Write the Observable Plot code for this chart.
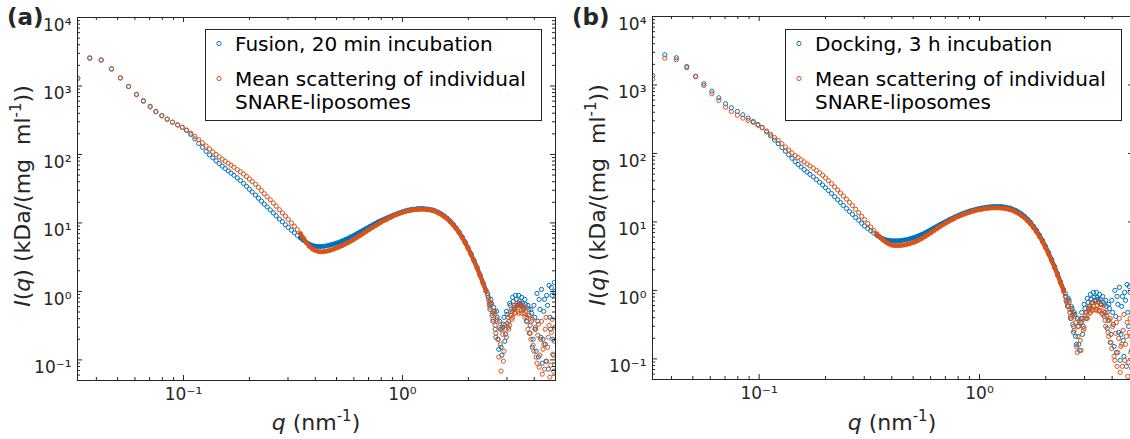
<!DOCTYPE html>
<html><head><meta charset="utf-8">
<script src="https://cdn.jsdelivr.net/npm/d3@7"></script>
<script src="https://cdn.jsdelivr.net/npm/@observablehq/plot@0.6"></script>
<style>
html,body{margin:0;padding:0;background:#fff;overflow:hidden;}
#wrap{position:relative;width:1130px;height:439px;overflow:hidden;font-family:"DejaVu Sans",sans-serif;}
#wrap svg{position:absolute;top:0;}
</style></head><body><div id="wrap"></div>
<script>
// scattering vector q (nm^-1), shared by all curves (last block: extra points in the noisy high-q tail)
const q = [0.0329,0.0373,0.0421,0.0469,0.0515,0.0561,0.0610,0.0656,0.0704,0.0748,0.0796,0.0843,0.0891,0.0940,0.0987,0.1032,0.1080,0.1127,0.1174,0.1220,0.1268,0.1315,0.1362,0.1409,0.1456,0.1503,
0.155,0.160,0.165,0.170,0.176,0.182,0.188,0.194,0.200,0.206,0.213,0.220,0.227,0.234,0.241,0.249,0.257,0.265,0.274,0.283,0.292,0.301,0.311,0.321,0.331,0.342,0.353,0.364,0.376,0.388,0.400,0.413,0.426,0.440,0.454,0.468,0.483,0.499,0.515,0.531,0.548,0.566,0.584,0.603,0.622,0.642,0.663,0.684,0.706,0.729,0.752,0.776,0.801,0.827,0.853,0.880,0.908,0.937,0.967,0.998,1.030,1.063,1.097,1.132,1.168,1.205,1.244,1.284,1.325,1.367,1.411,1.456,1.502,1.550,1.600,1.651,1.704,1.758,1.814,1.872,1.932,1.994,2.058,2.124,2.192,2.262,2.334,2.409,
2.45,2.49,2.53,2.57,2.61,2.65,2.69,2.73,2.78,2.82,2.87,2.91,2.96,3.01,3.06,3.11,3.16,3.21,3.26,3.31,3.37,3.42,3.48,3.53,3.59,3.65,3.71,3.77,3.83,3.89,3.95,4.02,4.08,4.15,4.21,4.28,4.35,4.42,4.49,4.56,4.64,4.71,4.79,4.86,4.94,
2.47,2.51,2.55,2.59,2.63,2.67,2.71,2.755,2.80,2.845,2.89,2.935,2.985,3.035,3.085,3.135,3.185,3.235,3.285,3.34,3.395,3.45,3.505,3.56,3.62,3.68,3.74,3.80,3.86,3.92,3.985,4.05,4.115,4.18,4.245,4.315,4.385,4.455,4.525,4.60,4.675,4.75,4.825,4.90,4.97];

// (a) Fusion, 20 min incubation
const fusion20 = [1300,2580,2400,1780,1310,985,755,610,505,425,370,328,296,270,250,224,196,169,145,127,111,98.7,89.2,80.7,73.5,67.6,
62.3,57.7,53.4,49.6,45.6,41.6,37.7,34.2,31.0,28.3,25.5,23.0,20.8,18.8,17.1,15.5,14.0,12.7,11.4,10.4,9.41,8.60,7.83,7.15,6.58,6.05,5.58,5.20,4.90,4.69,4.58,4.53,4.53,4.58,4.66,4.77,4.90,5.07,5.25,5.47,5.71,5.99,6.30,6.64,7.01,7.42,7.86,8.32,8.81,9.32,9.83,10.4,10.9,11.4,11.9,12.4,13.0,13.5,14.0,14.5,15.0,15.4,15.7,15.9,16.1,16.2,16.2,16.0,15.8,15.5,15.0,14.3,13.6,12.7,11.7,10.7,9.57,8.46,7.37,6.28,5.27,4.34,3.53,2.83,2.24,1.74,1.34,1.03,
0.935,0.647,0.765,0.447,0.585,0.280,0.512,0.200,0.366,0.153,0.299,0.418,0.237,0.463,0.366,0.626,0.512,0.715,0.585,0.765,0.626,0.715,0.626,0.669,0.566,0.647,0.418,0.547,0.320,0.478,0.200,0.418,0.134,0.366,0.765,0.214,0.0895,0.512,0.169,0.875,0.0732,0.418,1.14,0.200,1.35,
0.818,0.547,0.669,0.366,0.512,0.214,0.418,0.143,0.280,0.117,0.331,0.187,0.512,0.299,0.669,0.447,0.818,0.547,0.875,0.626,0.875,0.669,0.818,0.547,0.765,0.366,0.626,0.245,0.547,0.153,0.626,0.280,0.935,0.110,0.547,1.07,0.200,0.765,0.0957,0.626,1.22,0.280,0.875,0.117,1.00];

// (a) Mean scattering of individual SNARE-liposomes
const meanA = [1280,2530,2390,1770,1310,977,747,598,494,419,366,327,296,270,248,228,205,183,164,148,133,120,109,100,92.3,85.4,
79.6,74.4,69.6,65.1,60.1,55.8,51.7,47.7,43.8,40.3,36.7,33.2,29.7,26.7,24.1,21.8,19.6,17.6,15.6,14.0,12.6,11.3,10.0,8.92,7.99,6.99,6.01,5.17,4.52,4.16,3.95,3.82,3.78,3.82,3.89,3.99,4.13,4.30,4.47,4.67,4.91,5.17,5.47,5.81,6.17,6.58,7.03,7.52,8.04,8.60,9.13,9.67,10.3,10.9,11.4,12.0,12.6,13.2,13.7,14.2,14.6,15.0,15.3,15.6,15.7,15.8,15.8,15.7,15.5,15.2,14.7,14.0,13.3,12.4,11.5,10.4,9.35,8.26,7.18,6.11,5.13,4.23,3.43,2.75,2.18,1.70,1.31,1.00,
0.875,0.692,0.669,0.478,0.512,0.320,0.391,0.200,0.299,0.0685,0.237,0.134,0.280,0.342,0.280,0.447,0.391,0.529,0.478,0.605,0.512,0.626,0.529,0.605,0.478,0.512,0.366,0.447,0.245,0.366,0.164,0.280,0.110,0.229,0.0783,0.200,0.0619,0.169,0.280,0.0957,0.214,0.0560,0.253,0.121,0.187,
0.765,0.585,0.647,0.391,0.478,0.245,0.366,0.110,0.169,0.280,0.0957,0.320,0.214,0.418,0.320,0.547,0.418,0.626,0.495,0.669,0.478,0.647,0.478,0.585,0.418,0.585,0.280,0.447,0.200,0.391,0.134,0.299,0.0895,0.331,0.117,0.366,0.143,0.0732,0.418,0.153,0.320,0.0837,0.391,0.0685,0.299];

// (b) Docking, 3 h incubation
const docking3h = [1376,2760,2495,1863,1344,1041,812,650,532,465,410,367,328,293,265,240,206,180,157,139,122,108,95.7,85.1,75.9,69.1,
63.3,58.2,53.5,49.6,45.5,41.6,38.0,34.7,31.6,28.8,26.0,23.4,21.2,19.2,17.4,15.7,14.2,12.9,11.6,10.6,9.57,8.74,8.04,7.44,6.89,6.39,6.00,5.70,5.50,5.37,5.32,5.30,5.32,5.37,5.44,5.55,5.68,5.86,6.06,6.31,6.59,6.93,7.31,7.74,8.20,8.68,9.19,9.70,10.2,10.8,11.3,11.9,12.4,13.0,13.5,14.0,14.5,14.9,15.3,15.7,16.0,16.3,16.5,16.7,16.8,16.8,16.8,16.6,16.3,16.0,15.4,14.8,14.0,13.1,12.1,11.0,9.83,8.65,7.52,6.39,5.35,4.40,3.56,2.84,2.24,1.74,1.33,1.02,
0.904,0.668,0.764,0.477,0.584,0.319,0.477,0.213,0.390,0.163,0.341,0.477,0.298,0.546,0.477,0.668,0.584,0.739,0.668,0.790,0.715,0.790,0.691,0.739,0.625,0.668,0.477,0.584,0.365,0.546,0.228,0.477,0.152,0.417,0.817,0.244,0.0951,0.584,0.186,0.935,0.0777,0.477,1.14,0.213,1.22,
0.817,0.584,0.715,0.390,0.546,0.244,0.446,0.163,0.298,0.133,0.390,0.228,0.625,0.390,0.764,0.546,0.874,0.646,0.935,0.715,0.935,0.739,0.874,0.625,0.817,0.417,0.715,0.279,0.625,0.174,0.715,0.319,1.00,0.124,0.625,1.11,0.228,0.817,0.109,0.715,1.22,0.298,0.935,0.133,1.07];

// (b) Mean scattering of individual SNARE-liposomes
const meanB = [1215,2462,2333,1783,1317,983,744,594,474,410,362,328,303,284,258,237,213,191,171,155,139,124,112,102,92.9,87.4,
80.9,75.4,70.3,65.9,61.0,56.5,52.1,48.1,44.0,40.1,36.1,32.5,29.3,26.4,23.9,21.5,19.3,17.3,15.3,13.6,12.1,10.8,9.51,8.42,7.52,6.70,6.02,5.48,5.05,4.76,4.58,4.51,4.51,4.54,4.60,4.69,4.82,4.99,5.19,5.44,5.74,6.10,6.53,6.98,7.49,8.01,8.57,9.13,9.70,10.3,10.8,11.4,12.0,12.5,13.0,13.5,13.9,14.4,14.8,15.1,15.4,15.7,15.8,16.0,16.0,16.0,16.0,15.8,15.5,15.2,14.7,14.0,13.3,12.4,11.5,10.4,9.35,8.23,7.14,6.08,5.09,4.19,3.39,2.70,2.13,1.66,1.27,0.967,
0.817,0.715,0.584,0.528,0.390,0.446,0.261,0.341,0.124,0.298,0.186,0.341,0.261,0.417,0.390,0.494,0.462,0.546,0.511,0.584,0.528,0.604,0.511,0.565,0.462,0.494,0.365,0.432,0.244,0.365,0.174,0.298,0.109,0.236,0.0777,0.199,0.0635,0.163,0.261,0.0951,0.213,0.0555,0.244,0.124,0.186,
0.715,0.604,0.668,0.417,0.511,0.298,0.417,0.152,0.213,0.365,0.133,0.390,0.279,0.477,0.390,0.584,0.477,0.668,0.528,0.691,0.511,0.668,0.494,0.625,0.446,0.604,0.298,0.477,0.213,0.390,0.142,0.319,0.0951,0.341,0.124,0.390,0.152,0.0777,0.446,0.163,0.341,0.0889,0.390,0.0727,0.319];

const xMajor = [0.1, 1];
const xMinor = [0.04,0.05,0.06,0.07,0.08,0.09,0.2,0.3,0.4,0.5,0.6,0.7,0.8,0.9,2,3,4];
const yMajor = [0.1, 1, 10, 100, 1000, 10000];
const yMinor = [0.06,0.07,0.08,0.09,0.2,0.3,0.4,0.5,0.6,0.7,0.8,0.9,2,3,4,5,6,7,8,9,20,30,40,50,60,70,80,90,200,300,400,500,600,700,800,900,2000,3000,4000,5000,6000,7000,8000,9000];
const tickLabels = ["10\u207B\u00B9","10\u2070","10\u00B9","10\u00B2","10\u00B3","10\u2074"];
const legendA = ["Fusion, 20 min incubation", "Mean scattering of individual", "SNARE-liposomes"];
const legendB = ["Docking, 3 h incubation", "Mean scattering of individual", "SNARE-liposomes"];

const BLUE = "#0072BD", ORANGE = "#D95319", INK = "#262626";
const wrap = document.getElementById("wrap");

function panel(blue, orange, left, width, mt, mb) {
  const H = 439, ml = 77, mr = 5;
  const ph = H - mt - mb, pw = width - ml - mr;
  const dB = q.map((v, i) => ({q: v, I: blue[i]}));
  const dO = q.map((v, i) => ({q: v, I: orange[i]}));
  const dense = d => d.q >= 0.34 && d.q <= 2.41;
  const fmt = v => tickLabels[yMajor.indexOf(v)];
  const svg = Plot.plot({
    width, height: H, marginLeft: ml, marginRight: mr, marginTop: mt, marginBottom: mb,
    style: {fontFamily: "DejaVu Sans", fontSize: "17px", color: INK, background: "transparent", overflow: "visible"},
    x: {type: "log", domain: [0.0328, 5.0], ticks: xMajor, tickFormat: fmt, tickSize: 0, tickPadding: 7, label: null},
    y: {type: "log", domain: [0.05, 10000], ticks: yMajor, tickFormat: fmt, tickSize: 0, tickPadding: 6, label: null},
    marks: [
      Plot.line(dB.filter(dense), {x: "q", y: "I", stroke: BLUE, strokeWidth: 4}),
      Plot.dot(dB, {x: "q", y: "I", r: 2.1, stroke: BLUE, strokeWidth: 1, fill: "none", clip: true}),
      Plot.line(dO.filter(dense), {x: "q", y: "I", stroke: ORANGE, strokeWidth: 4}),
      Plot.dot(dO, {x: "q", y: "I", r: 2.1, stroke: ORANGE, strokeWidth: 1, fill: "none", clip: true}),
      Plot.frame({stroke: INK}),
      Plot.tickX(xMajor, {x: d => d, insetTop: ph - 5, stroke: INK}),
      Plot.tickX(xMajor, {x: d => d, insetBottom: ph - 5, stroke: INK}),
      Plot.tickX(xMinor, {x: d => d, insetTop: ph - 3, stroke: INK}),
      Plot.tickX(xMinor, {x: d => d, insetBottom: ph - 3, stroke: INK}),
      Plot.tickY(yMajor, {y: d => d, insetRight: pw - 5, stroke: INK}),
      Plot.tickY(yMajor, {y: d => d, insetLeft: pw - 5, stroke: INK}),
      Plot.tickY(yMinor, {y: d => d, insetRight: pw - 3, stroke: INK}),
      Plot.tickY(yMinor, {y: d => d, insetLeft: pw - 3, stroke: INK})
    ]
  });
  svg.style.left = left + "px";
  d3.select(svg).selectAll("g[aria-label='y-axis tick label'] text").attr("dy", "0.45em");
  wrap.appendChild(svg);
}

panel(fusion20, meanA, 0, 560, 17, 59);
panel(docking3h, meanB, 575, 563, 16, 60);

// annotations
const ov = d3.create("svg").attr("width", 1130).attr("height", 439)
  .style("left", "0px").style("font-family", "'DejaVu Sans', sans-serif").style("pointer-events", "none");
function panelLetter(x, y, s) {
  ov.append("text").attr("x", x).attr("y", y).attr("font-size", 23).attr("font-weight", "bold").attr("fill", INK).text(s);
}
function ylabel(x, y) {
  const t = ov.append("text").attr("transform", `translate(${x},${y}) rotate(-90)`).attr("text-anchor", "middle").attr("font-size", 22).attr("fill", INK);
  t.append("tspan").attr("font-style", "italic").text("I");
  t.append("tspan").text("(");
  t.append("tspan").attr("font-style", "italic").text("q");
  t.append("tspan").text(") (kDa/(mg\u00a0\u00a0ml");
  t.append("tspan").attr("font-size", 15).attr("dy", -9).text("-1");
  t.append("tspan").attr("dy", 9).text("))");
}
function xlabel(x, y) {
  const t = ov.append("text").attr("x", x).attr("y", y).attr("text-anchor", "middle").attr("font-size", 22).attr("fill", INK);
  t.append("tspan").attr("font-style", "italic").text("q");
  t.append("tspan").text(" (nm");
  t.append("tspan").attr("font-size", 15).attr("dy", -9).text("-1");
  t.append("tspan").attr("dy", 9).text(")");
}
function legend(ox, oy, lines) {
  ov.append("rect").attr("x", ox + 0.5).attr("y", oy + 0.5).attr("width", 336).attr("height", 91)
    .attr("fill", "#fff").attr("stroke", INK).attr("stroke-width", 1);
  ov.append("circle").attr("cx", ox + 14).attr("cy", oy + 14.5).attr("r", 2.1).attr("fill", "none").attr("stroke", BLUE);
  ov.append("circle").attr("cx", ox + 14).attr("cy", oy + 49.5).attr("r", 2.1).attr("fill", "none").attr("stroke", ORANGE);
  const ys = [22, 56.5, 80];
  lines.forEach((s, i) => ov.append("text").attr("x", ox + 30).attr("y", oy + ys[i]).attr("font-size", 20).attr("fill", "#000").text(s));
}
panelLetter(7, 25, "(a)");
panelLetter(572, 25, "(b)");
ylabel(30, 196);
ylabel(605, 195);
xlabel(316, 430);
xlabel(892, 430);
legend(205, 29, legendA);
legend(785, 29, legendB);
wrap.appendChild(ov.node());
</script>
</body></html>
